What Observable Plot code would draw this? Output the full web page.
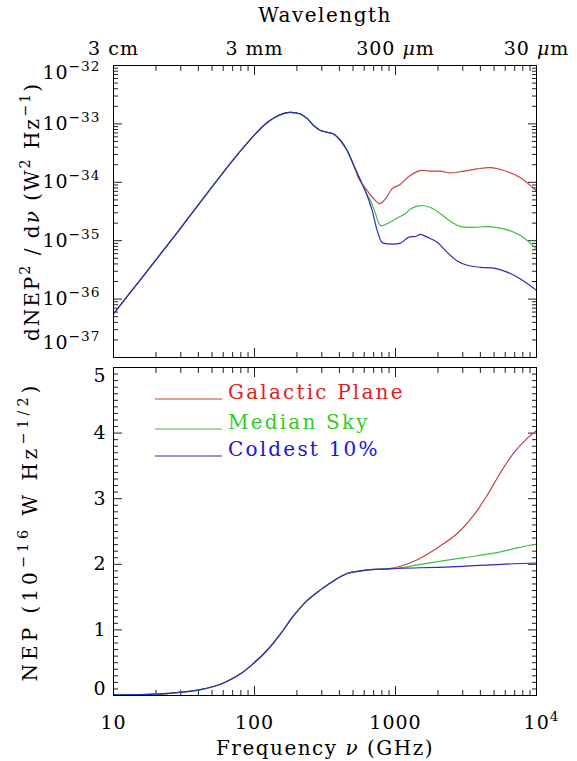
<!DOCTYPE html>
<html><head><meta charset="utf-8">
<script src="https://cdn.jsdelivr.net/npm/d3@7"></script>
<script src="https://cdn.jsdelivr.net/npm/@observablehq/plot@0.6"></script>
<style>
html,body{margin:0;padding:0;background:#fff;}
#wrap{position:relative;width:577px;height:761px;overflow:hidden;background:#fff;}
#top,#bot{position:absolute;left:0;}
#top{top:0;} #bot{top:362px;}
#wrap svg text{font-family:"DejaVu Serif",serif;letter-spacing:1.5px;}
#wrap svg g[aria-label$="tick label"] text{letter-spacing:1px;}
</style></head><body><div id="wrap"><div id="top"></div><div id="bot"></div></div>
<script>
// ---------- data: upper panel, dNEP^2/dnu (W^2 Hz^-1) vs frequency (GHz) ----------
const topFreqCommon = [10, 15.5, 28.3, 51.4, 71.3, 98.9, 118, 137, 160, 180, 212, 237, 264, 294, 327, 363, 407, 454, 506];
const topValCommon  = [5.6e-37, 2.14e-36, 1.38e-35, 9.1e-35, 2.5e-34, 6.3e-34, 9.7e-34, 1.26e-33, 1.5e-33, 1.58e-33, 1.48e-33, 1.23e-33, 9.3e-34, 7.7e-34, 7.2e-34, 6.7e-34, 5.2e-34, 3.5e-34, 1.94e-34];
const topFreqRed   = [550, 630, 702, 774, 849, 948, 1084, 1277, 1503, 1770, 2084, 2455, 3048, 3793, 4720, 5861, 7700, 10000];
const topValRed    = [1.15e-34, 7.2e-35, 5.2e-35, 4.3e-35, 5.2e-35, 7.8e-35, 9.3e-35, 1.32e-34, 1.59e-34, 1.55e-34, 1.55e-34, 1.45e-34, 1.55e-34, 1.70e-34, 1.78e-34, 1.59e-34, 1.20e-34, 7.1e-35];
const topFreqGreen = [565, 630, 665, 722, 783, 873, 1028, 1177, 1277, 1503, 1770, 2084, 2455, 2890, 3591, 4465, 5861, 7700, 10000];
const topValGreen  = [1.07e-34, 6.1e-35, 4.9e-35, 2.9e-35, 1.82e-35, 1.95e-35, 2.45e-35, 2.9e-35, 3.5e-35, 4.0e-35, 3.7e-35, 2.9e-35, 2.15e-35, 1.74e-35, 1.69e-35, 1.74e-35, 1.59e-35, 1.23e-35, 7.2e-36];
const topFreqBlue  = [565, 630, 683, 742, 805, 896, 1084, 1242, 1386, 1503, 1678, 1976, 2327, 2741, 3228, 4013, 4981, 6194, 7700, 10000];
const topValBlue   = [1.07e-34, 5.9e-35, 3.3e-35, 1.49e-35, 9.3e-36, 8.8e-36, 9.1e-36, 1.15e-35, 1.18e-35, 1.28e-35, 1.15e-35, 9.4e-36, 6.3e-36, 4.5e-36, 3.8e-36, 3.5e-36, 3.4e-36, 2.9e-36, 2.2e-36, 1.41e-36];

// ---------- data: lower panel, NEP (1e-16 W Hz^-1/2) ----------
const botFreqCommon = [10, 19.9, 41.4, 60.3, 79.6, 98.4, 123, 153, 190, 237, 294, 365, 454, 565, 665, 877];
const botValCommon  = [0.01, 0.02, 0.09, 0.19, 0.33, 0.49, 0.69, 0.94, 1.22, 1.45, 1.61, 1.75, 1.86, 1.90, 1.92, 1.93];
const botFreqRed   = [1084, 1426, 1976, 2741, 3591, 4465, 5560, 6902, 8590, 10000];
const botValRed    = [1.97, 2.07, 2.25, 2.47, 2.75, 3.05, 3.40, 3.70, 3.92, 4.04];
const botFreqGreen = [1084, 1426, 2455, 3793, 5560, 7295, 10000];
const botValGreen  = [1.945, 1.99, 2.07, 2.13, 2.19, 2.25, 2.31];
const botFreqBlue  = [1084, 2455, 5560, 10000];
const botValBlue   = [1.94, 1.96, 2.00, 2.02];

// ---------- series, ticks, labels ----------
const seriesNames  = ["Galactic Plane", "Median Sky", "Coldest 10%"];
const lineColors   = ["#c94040", "#3fbf3f", "#2b2bc0"];
const legendColors = ["#dd2222", "#33cc22", "#1515dd"];

const xTicks = [10, 100, 1000, 10000];
const xTickLabels = ["10", "100", "1000", "10^{4}"];
const wavelengthLabels = ["3 cm", "3 mm", "300 ~{μ}m", "30 ~{μ}m"];
const topYTicks = [1e-37, 1e-36, 1e-35, 1e-34, 1e-33, 1e-32];
const topYLabels = ["10^{−37}", "10^{−36}", "10^{−35}", "10^{−34}", "10^{−33}", "10^{−32}"];
const botYTicks = [0, 1, 2, 3, 4, 5];
const botYLabels = ["0", "1", "2", "3", "4", "5"];

const titleWavelength = "Wavelength";
const titleTopY = "dNEP^{2} / d~{ν} (W^{2} Hz^{−1})";
const titleBotY = "NEP (10^{−16} W Hz^{−1/2})";
const titleX = "Frequency ~{ν} (GHz)";

function rows(name, fc, vc, ft, vt) {
  const r = fc.map((f, i) => ({name, f, v: vc[i]}));
  return r.concat(ft.map((f, i) => ({name, f, v: vt[i]})));
}
const topData = [
  ...rows(seriesNames[0], topFreqCommon, topValCommon, topFreqRed, topValRed),
  ...rows(seriesNames[1], topFreqCommon, topValCommon, topFreqGreen, topValGreen),
  ...rows(seriesNames[2], topFreqCommon, topValCommon, topFreqBlue, topValBlue)
];
const botData = [
  ...rows(seriesNames[0], botFreqCommon, botValCommon, botFreqRed, botValRed),
  ...rows(seriesNames[1], botFreqCommon, botValCommon, botFreqGreen, botValGreen),
  ...rows(seriesNames[2], botFreqCommon, botValCommon, botFreqBlue, botValBlue)
];

const mult = [2, 3, 4, 5, 6, 7, 8, 9];
const xMinor = xTicks.slice(0, -1).flatMap(d => mult.map(k => k * d));
const topYMinor = topYTicks.slice(0, -1).flatMap(d => mult.map(k => k * d));
const botYMinor = d3.range(0, 51).map(i => i / 10).filter(v => !botYTicks.includes(v));

const MAJ = 9, MIN = 5, TICK = "#222";
function tickAxes(kind, anchors, major, minor) {
  const ax = kind === "x" ? Plot.axisX : Plot.axisY;
  return anchors.flatMap(a => [
    ax(major, {anchor: a, tickSize: -MAJ, tickFormat: () => "", label: null, stroke: TICK}),
    ax(minor, {anchor: a, tickSize: -MIN, tickFormat: () => "", label: null, stroke: TICK})
  ]);
}
function fmt(vals, labels) { return d => labels[vals.indexOf(d)]; }
const curve = "catmull-rom";
const common = {
  width: 577,
  marginLeft: 113, marginRight: 41,
  x: {type: "log", domain: [10, 1e4]},
  style: {fontFamily: "DejaVu Serif", fontSize: "19px", background: "white", color: "black"}
};
const colorScale = {domain: seriesNames, range: lineColors};

const topPlot = Plot.plot({
  ...common,
  height: 362, marginTop: 65, marginBottom: 5,
  y: {type: "log", domain: [1e-37, 1e-32]},
  color: colorScale,
  marks: [
    ...tickAxes("x", ["top", "bottom"], xTicks, xMinor),
    ...tickAxes("y", ["left", "right"], topYTicks, topYMinor),
    Plot.axisX(xTicks, {anchor: "top", tickSize: 0, tickPadding: 11, label: null, tickFormat: fmt(xTicks, wavelengthLabels), fontSize: 19}),
    Plot.axisY(topYTicks.slice(1, -1), {anchor: "left", tickSize: 0, tickPadding: 13, label: null, tickFormat: fmt(topYTicks, topYLabels), fontSize: 19}),
    Plot.axisY(topYTicks.slice(-1), {anchor: "left", tickSize: 0, tickPadding: 13, dy: 7.5, label: null, tickFormat: fmt(topYTicks, topYLabels), fontSize: 19}),
    Plot.axisY(topYTicks.slice(0, 1), {anchor: "left", tickSize: 0, tickPadding: 13, dy: -15, label: null, tickFormat: fmt(topYTicks, topYLabels), fontSize: 19}),
    Plot.line(topData, {x: "f", y: "v", z: "name", stroke: "name", strokeWidth: 1.2, curve}),
    Plot.frame({stroke: "black", strokeWidth: 1}),
    Plot.text([titleWavelength], {frameAnchor: "top", dy: -44, lineAnchor: "bottom", fontSize: 20}),
    Plot.text([titleTopY], {frameAnchor: "left", dx: -75, rotate: -90, lineAnchor: "bottom", textAnchor: "middle", fontSize: 20})
  ]
});

const botPlot = Plot.plot({
  ...common,
  height: 399, marginTop: 5, marginBottom: 66,
  y: {domain: [0, 5]},
  color: colorScale,
  marks: [
    ...tickAxes("x", ["top", "bottom"], xTicks, xMinor),
    ...tickAxes("y", ["left", "right"], botYTicks, botYMinor),
    Plot.axisX(xTicks.slice(0, -1), {anchor: "bottom", tickSize: 0, tickPadding: 19.5, label: null, tickFormat: fmt(xTicks, xTickLabels), fontSize: 19}),
    Plot.axisX(xTicks.slice(-1), {anchor: "bottom", tickSize: 0, tickPadding: 19.5, dx: 5, label: null, tickFormat: fmt(xTicks, xTickLabels), fontSize: 19}),
    Plot.axisY(botYTicks.slice(1, -1), {anchor: "left", tickSize: 0, tickPadding: 7, label: null, tickFormat: fmt(botYTicks, botYLabels), fontSize: 19}),
    Plot.axisY(botYTicks.slice(-1), {anchor: "left", tickSize: 0, tickPadding: 7, dy: 8.5, label: null, tickFormat: fmt(botYTicks, botYLabels), fontSize: 19}),
    Plot.axisY(botYTicks.slice(0, 1), {anchor: "left", tickSize: 0, tickPadding: 7, dy: -7, label: null, tickFormat: fmt(botYTicks, botYLabels), fontSize: 19}),
    Plot.line(botData, {x: "f", y: "v", z: "name", stroke: "name", strokeWidth: 1.2, curve}),
    Plot.frame({stroke: "black", strokeWidth: 1}),
    Plot.text([titleX], {frameAnchor: "bottom", dy: 59, lineAnchor: "bottom", fontSize: 20}),
    Plot.text([titleBotY], {frameAnchor: "left", dx: -77, rotate: -90, lineAnchor: "bottom", textAnchor: "middle", fontSize: 20})
  ]
});

document.getElementById("top").appendChild(topPlot);
document.getElementById("bot").appendChild(botPlot);

// wider spacing for the rotated axis titles
d3.select(topPlot).selectAll("g[aria-label='text'] text").filter(function(){ return this.textContent.startsWith("dNEP"); }).style("letter-spacing", "2px");
d3.select(botPlot).selectAll("g[aria-label='text'] text").filter(function(){ return this.textContent.startsWith("NEP"); }).style("letter-spacing", "4px");

// legend inside lower panel
const leg = d3.select(botPlot).append("g").attr("aria-label", "legend").attr("text-anchor", "start");
const legY = [37, 67, 94];
seriesNames.forEach((n, i) => {
  leg.append("line").attr("x1", 155).attr("x2", 222).attr("y1", legY[i]).attr("y2", legY[i])
    .attr("stroke", lineColors[i]).attr("stroke-width", 1.2);
  leg.append("text").attr("x", 228).attr("y", legY[i]).attr("fill", legendColors[i])
    .attr("text-anchor", "start").attr("font-size", 20).style("letter-spacing", "2.2px").text(n);
});

// rich text: ^{...} superscript, ~{...} italic
function rich(svg) {
  svg.querySelectorAll("text").forEach(t => {
    const s = t.textContent;
    if (!/[\^~]\{/.test(s)) return;
    const fs = parseFloat(getComputedStyle(t).fontSize) || 19;
    const raise = (fs * 0.42).toFixed(1);
    while (t.firstChild) t.removeChild(t.firstChild);
    const re = /\^\{([^}]*)\}|~\{([^}]*)\}|([^\^~]+)/g;
    let m, up = false;
    while ((m = re.exec(s))) {
      const ts = document.createElementNS("http://www.w3.org/2000/svg", "tspan");
      if (m[1] !== undefined) {
        ts.textContent = m[1];
        ts.setAttribute("font-size", (fs * 0.72).toFixed(1));
        if (!up) { ts.setAttribute("dy", -raise); up = true; }
      } else {
        ts.textContent = m[2] !== undefined ? m[2] : m[3];
        if (m[2] !== undefined) ts.setAttribute("font-style", "italic");
        if (up) { ts.setAttribute("dy", raise); up = false; }
      }
      t.appendChild(ts);
    }
  });
}
rich(topPlot);
rich(botPlot);
</script></body></html>
